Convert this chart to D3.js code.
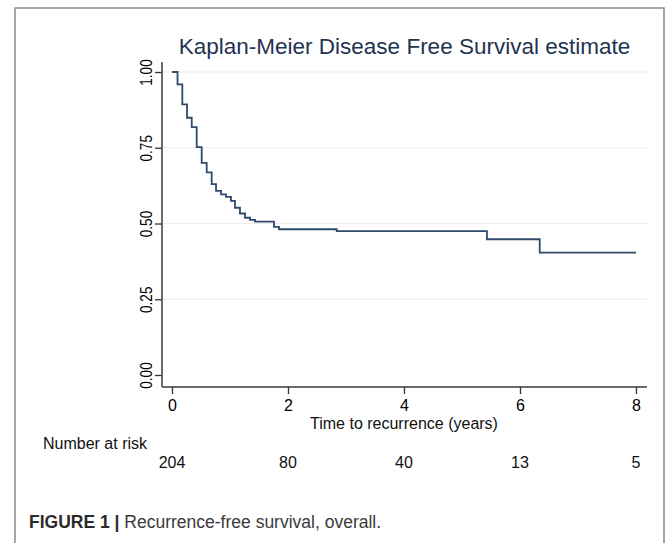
<!DOCTYPE html>
<html>
<head>
<meta charset="utf-8">
<script src="https://cdn.jsdelivr.net/npm/d3@7"></script>
<style>
  html, body { margin: 0; padding: 0; background: #fff; }
  svg { display: block; }
  text { font-family: "Liberation Sans", Arial, Helvetica, sans-serif; }
</style>
</head>
<body>
<svg id="chart" width="669" height="543"></svg>
<script>
// ---- data ----
const stepTimes = [0, 0.095, 0.178, 0.259, 0.340, 0.426, 0.512, 0.598, 0.684, 0.759, 0.845, 0.931, 1.017, 1.086, 1.172, 1.259, 1.345, 1.431, 1.759, 1.845, 2.84, 5.43, 6.34, 8.0];
const survival  = [1.000, 0.959, 0.893, 0.849, 0.818, 0.752, 0.700, 0.669, 0.630, 0.608, 0.596, 0.588, 0.575, 0.552, 0.533, 0.519, 0.512, 0.506, 0.489, 0.481, 0.475, 0.448, 0.404, 0.404];
const xTicks = [0, 2, 4, 6, 8];
const yTicks = [0, 0.25, 0.5, 0.75, 1];
const yTickLabels = ["0.00", "0.25", "0.50", "0.75", "1.00"];
const gridValues = [0.25, 0.5, 0.75, 1];
const riskTimes = [0, 2, 4, 6, 8];
const riskCounts = [204, 80, 40, 13, 5];
const titleText = "Kaplan-Meier Disease Free Survival estimate";
const xTitle = "Time to recurrence (years)";
const riskTitle = "Number at risk";
const captionBold = "FIGURE 1 | ";
const captionText = "Recurrence-free survival, overall.";

// ---- layout ----
const svg = d3.select("#chart");
const plotLeft = 162, plotRight = 647, plotTop = 62, plotBottom = 387;
const x = d3.scaleLinear().domain([0, 8]).range([172, 636]);
const y = d3.scaleLinear().domain([0, 1]).range([375, 72]);

// outer frame (left, top, right; bottom cut off)
svg.append("path")
  .attr("d", `M15,545 L15,8 L664,8 L664,545`)
  .attr("fill", "none").attr("stroke", "#8a8a8a").attr("stroke-width", 1.5);

// gridlines
svg.append("g").selectAll("line").data(gridValues).join("line")
  .attr("x1", plotLeft).attr("x2", plotRight)
  .attr("y1", d => y(d)).attr("y2", d => y(d))
  .attr("stroke", "#ececec").attr("stroke-width", 1.2);

// title
svg.append("text")
  .attr("x", (plotLeft + plotRight) / 2).attr("y", 54)
  .attr("text-anchor", "middle")
  .style("font-size", "22.5px").attr("fill", "#1f3352")
  .text(titleText);

// y axis
const yAxis = d3.axisLeft(y).tickValues(yTicks)
  .tickFormat((d, i) => yTickLabels[i]).tickSize(7).tickSizeOuter(0);
const gy = svg.append("g").attr("transform", `translate(${plotLeft},0)`).call(yAxis);
gy.attr("font-size", null);
gy.select(".domain").remove();
gy.selectAll(".tick line").attr("stroke", "#333").attr("stroke-width", 1.3);
gy.selectAll(".tick text")
  .style("font-size", "16.5px").attr("fill", "#000")
  .attr("x", null).attr("dy", null)
  .attr("text-anchor", "middle")
  .attr("transform", "translate(-10,0) rotate(-90) scale(0.82,1)")
  .attr("y", 0);

// x axis
const xAxis = d3.axisBottom(x).tickValues(xTicks).tickSize(7).tickSizeOuter(0);
const gx = svg.append("g").attr("transform", `translate(0,${plotBottom})`).call(xAxis);
gx.attr("font-size", null);
gx.select(".domain").remove();
gx.selectAll(".tick line").attr("stroke", "#333").attr("stroke-width", 1.3);
gx.selectAll(".tick text")
  .style("font-size", "16px").attr("fill", "#000")
  .attr("dy", null).attr("y", 23.5);

// axis lines
svg.append("line").attr("x1", plotLeft).attr("x2", plotLeft)
  .attr("y1", plotTop).attr("y2", plotBottom)
  .attr("stroke", "#3a3a3a").attr("stroke-width", 1.5);
svg.append("line").attr("x1", plotLeft).attr("x2", plotRight)
  .attr("y1", plotBottom).attr("y2", plotBottom)
  .attr("stroke", "#3a3a3a").attr("stroke-width", 1.5);

// x title
svg.append("text")
  .attr("x", x(4)).attr("y", 429)
  .attr("text-anchor", "middle").style("font-size", "16px").attr("fill", "#111")
  .text(xTitle);

// survival curve
const pts = stepTimes.map((t, i) => [t, survival[i]]);
const line = d3.line().x(d => x(d[0])).y(d => y(d[1])).curve(d3.curveStepAfter);
svg.append("path").datum(pts)
  .attr("d", line)
  .attr("fill", "none").attr("stroke", "#2f4a6c").attr("stroke-width", 1.8);

// number at risk
svg.append("text")
  .attr("x", 43).attr("y", 449)
  .style("font-size", "16px").attr("fill", "#111")
  .text(riskTitle);
svg.append("g").selectAll("text").data(riskTimes).join("text")
  .attr("x", d => x(d)).attr("y", 468)
  .attr("text-anchor", "middle").style("font-size", "16px").attr("fill", "#111")
  .text((d, i) => riskCounts[i]);

// caption
const cap = svg.append("text").attr("x", 29).attr("y", 528)
  .style("font-size", "17.5px").attr("fill", "#333");
cap.append("tspan").attr("font-weight", "bold").attr("fill", "#2b2b2b").text(captionBold);
cap.append("tspan").attr("fill", "#3a3a3a").text(captionText);
</script>
</body>
</html>
